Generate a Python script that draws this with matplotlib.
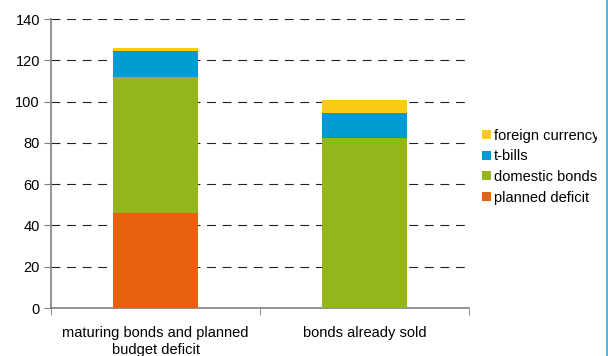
import numpy as np
import matplotlib
matplotlib.use('Agg')
from matplotlib import pyplot as plt
from matplotlib.transforms import Bbox

plt.rcParams['font.family'] = ['Liberation Sans', 'DejaVu Sans']

categories = ['maturing bonds and planned\nbudget deficit', 'bonds already sold']
series = ['planned deficit', 'domestic bonds', 't-bills', 'foreign currency']
planned_deficit = [46, 0]
domestic_bonds = [66, 82.5]
t_bills = [12.5, 12]
foreign_currency = [1.5, 6.5]
colors = ['#e8610f', '#95b61b', '#009bd0', '#facb14']

fig = plt.figure(figsize=(6.08, 3.56), dpi=100)
ax = fig.add_axes([51/608, 1-308/356, 418/608, 289/356])

x = np.arange(len(categories))
bottom = np.zeros(len(categories))
for name, vals, c in zip(series, [planned_deficit, domestic_bonds, t_bills, foreign_currency], colors):
    ax.bar(x, vals, width=0.41, bottom=bottom, color=c, label=name, zorder=3)
    bottom += np.array(vals)

ax.set_xlim(-0.5, 1.5)
ax.set_ylim(0, 140)
ax.set_yticks(range(0, 141, 20))
ax.set_xticks(x)
ax.set_xticklabels(categories, fontsize=10.5, linespacing=1.25)
ax.set_xticks([-0.5, 0.5, 1.5], minor=True)
ax.tick_params(axis='x', which='major', length=0, pad=13)
ax.tick_params(axis='x', which='minor', length=5, color='#808080', direction='out')
ax.tick_params(axis='y', length=5, color='#808080', labelsize=10.5, pad=3)
for s in ['top', 'right']:
    ax.spines[s].set_visible(False)
for s in ['left', 'bottom']:
    ax.spines[s].set_color('#808080')
    ax.spines[s].set_linewidth(1.2)
ax.yaxis.grid(True, color='#222222', linestyle=(0, (8, 6)), linewidth=0.8, zorder=0)

h, l = ax.get_legend_handles_labels()
leg = fig.legend(h[::-1], l[::-1], loc='upper left', bbox_to_anchor=(476/608, 1-123/356),
                 frameon=False, fontsize=10.5, handlelength=0.6, handleheight=0.6,
                 handletextpad=0.25, labelspacing=0.45, borderaxespad=0)
clip = Bbox.from_extents(0, 0, 597, 356)
for t in leg.get_texts():
    t.set_clip_on(True)
    t.set_clip_box(clip)

fig.add_artist(plt.Line2D([606.5/608, 606.5/608], [0, 1], color='#29abe2', linewidth=1.2,
                          transform=fig.transFigure))

fig.savefig('out.png', dpi=100)
